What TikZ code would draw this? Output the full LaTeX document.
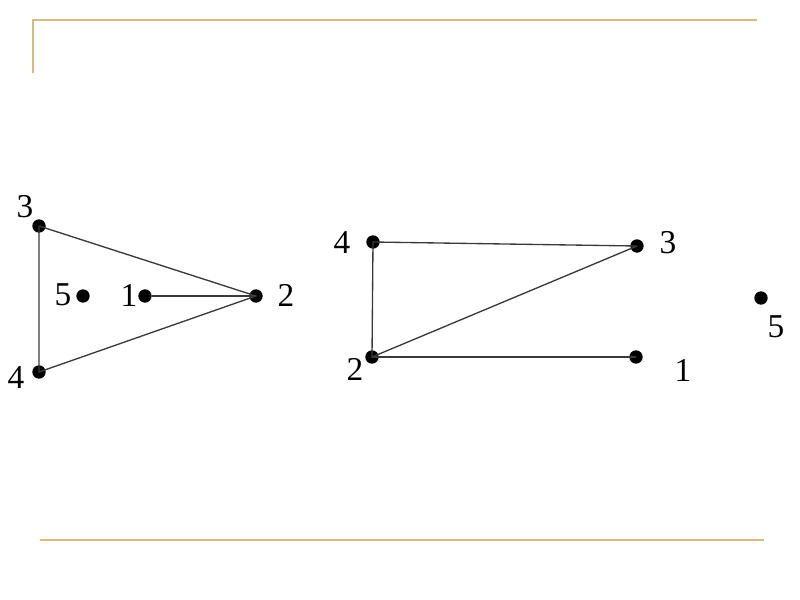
\documentclass[tikz,border=0pt]{standalone}
\usepackage{fontspec}
\setmainfont{Liberation Serif}
\usepackage{xcolor}
\usepackage{tikz}
\definecolor{rule}{HTML}{D4BC7A}
\definecolor{edge}{HTML}{3A3A3A}
\tikzset{dot/.style={circle,fill=black,inner sep=0pt,minimum size=10pt},
  num/.style={inner sep=0pt,font=\fontsize{25}{28}\selectfont},
  link/.style={draw=edge,line width=1pt}}
\newcommand{\vtx}[4]{%
  \node[dot] (#1) at (#2) {};
  \node[num] (#1t) at (#3) {#4};}

\begin{document}
\begin{tikzpicture}[x=0.75pt,y=-0.75pt]
  \useasboundingbox (0,0) rectangle (800,600);
  % slide rules
  \draw[rule,line width=1.4pt] (33,73) -- (33,20);
  \draw[rule,line width=2pt] (32,20) -- (757,20);
  \draw[rule,line width=2pt] (40,540) -- (764,540);
  % first graph
  \vtx{a3}{39,226}{25,207}{3}
  \vtx{a5}{83,296}{63,295}{5}
  \vtx{a1}{145,296}{129,295}{1}
  \vtx{a2}{256,296}{286,295}{2}
  \vtx{a4}{39,372}{16,378}{4}
  \draw[link] (a3.center) -- (a2.center) -- (a4.center) -- cycle;
  \draw[link] (a1) -- (a2.center);
  % second graph
  \vtx{b4}{373,242}{342,243}{4}
  \vtx{b3}{637,246}{668,243}{3}
  \vtx{b2}{372,357}{355,369}{2}
  \vtx{b1}{636,357}{683,370}{1}
  \vtx{b5}{761,298}{776,327}{5}
  \draw[link] (b3.center) -- (b4.center) -- (b2.center) -- (b3.center);
  \draw[link] (b2.center) -- (b1.center);
\end{tikzpicture}
\end{document}
